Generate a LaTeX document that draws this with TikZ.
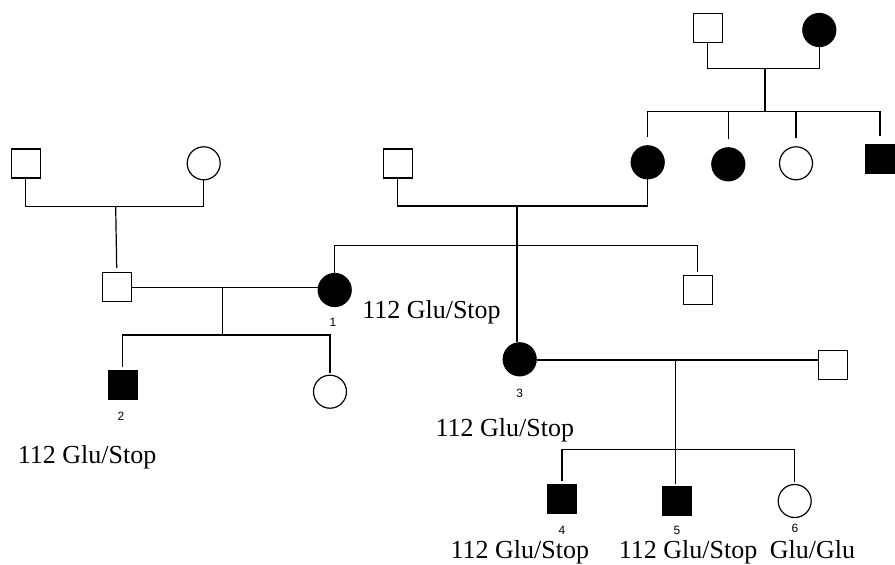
\documentclass[tikz,border=0pt]{standalone}
\usepackage{fontspec}
\setmainfont{Liberation Serif}
\newfontfamily\numfont{Liberation Sans}
\begin{document}
\begin{tikzpicture}[x=1pt,y=-1pt,line width=1.2pt,
  male/.style={draw,rectangle,minimum size=29pt,inner sep=0pt},
  female/.style={draw,circle,minimum size=33pt,inner sep=0pt},
  aff/.style={fill=black},
  unaff/.style={fill=white},
  geno/.style={anchor=base west,inner sep=0pt,font=\fontsize{26}{28}\selectfont},
  idx/.style={inner sep=0pt,font=\numfont\fontsize{12}{12}\selectfont}]
\useasboundingbox (0,0) rectangle (895,565);

% generation I
\node[male,unaff]   (a1) at (25.7,163.5) {};
\node[female,unaff] (a2) at (203.7,163.3) {};
\node[male,unaff]   (b1) at (397.7,163.5) {};
\node[male,unaff]   (t1) at (707.7,28.3) {};
\node[female,aff]   (t2) at (819.3,30) {};

% children of the top couple
\node[female,aff]   (s1) at (647.7,162.3) {};
\node[female,aff]   (s2) at (728.3,164.3) {};
\node[female,unaff] (s3) at (796,163.3) {};
\node[male,aff]     (s4) at (880,158.8) {};

% generation II
\node[male,unaff]   (f1) at (116.7,287) {};
\node[female,aff]   (p1) at (334.7,290) {};
\node[male,unaff]   (q1) at (697.7,289.7) {};

% generation III
\node[male,aff]     (p2) at (122.8,385.3) {};
\node[female,unaff] (r2) at (330,391.7) {};
\node[female,aff]   (p3) at (519.7,359.3) {};
\node[male,unaff]   (h3) at (832.7,365) {};

% generation IV
\node[male,aff]     (p4) at (562,499) {};
\node[male,aff]     (p5) at (677,501) {};
\node[female,unaff] (p6) at (794.7,501) {};

% couple lines and their midpoints
\coordinate (ma) at (115.7,206.7);
\coordinate (mt) at (765,68.3);
\coordinate (mb) at (517,206);
\coordinate (mf) at (222.7,287.7);
\coordinate (mh) at (675.3,360);

\draw (a1.south) |- (ma) -| (a2.south);
\draw (t1.south) |- (mt) -| (t2.south);
\draw (b1.south) |- (mb) -| (s1.south);
\draw (f1.east |- mf) -- (p1.west |- mf);
\draw (p3.east |- mh) -- (h3.west |- mh);

% sibship lines
\coordinate (kt) at (765,111.7);
\coordinate (kb) at (517,245.3);
\coordinate (kf) at (222.7,335);
\coordinate (kh) at (675.3,449.3);

\draw (ma) -- ([yshift=4pt]f1.north);
\draw (mt) -- (kt);
\draw ([yshift=8pt]s1.north) |- (kt) -| ([yshift=8pt]s4.north);
\draw (kt -| s2) -- ([yshift=8pt]s2.north);
\draw (kt -| s3) -- ([yshift=8pt]s3.north);

\draw (mb) -- (mb |- p3.north);
\draw (p1.north) |- (kb) -| ([yshift=3pt]q1.north);

\draw (mf) -- (kf);
\draw ([yshift=3pt]p2.north) |- (kf) -| ([yshift=2pt]r2.north);

\draw (mh) -- ([yshift=2pt]mh |- p5.north);
\draw ([yshift=3pt]p4.north) |- (kh) -| ([yshift=2pt]p6.north);

% individual numbers
\node[idx] (n1) at (333,322) {1};
\node[idx] (n2) at (121,416.7) {2};
\node[idx] (n3) at (519.7,393.3) {3};
\node[idx] (n4) at (562,530) {4};
\node[idx] (n5) at (677,530) {5};
\node[idx] (n6) at (795,528) {6};

% genotypes
\node[geno] (g1) at (361.7,318.3) {112 Glu/Stop};
\node[geno] (g2) at (17.3,463.3) {112 Glu/Stop};
\node[geno] (g3) at (435,436.7) {112 Glu/Stop};
\node[geno] (g4) at (450,558) {112 Glu/Stop};
\node[geno] (g5) at (618.3,558) {112 Glu/Stop};
\node[geno] (g6) at (769.3,558) {Glu/Glu};
\end{tikzpicture}
\end{document}
